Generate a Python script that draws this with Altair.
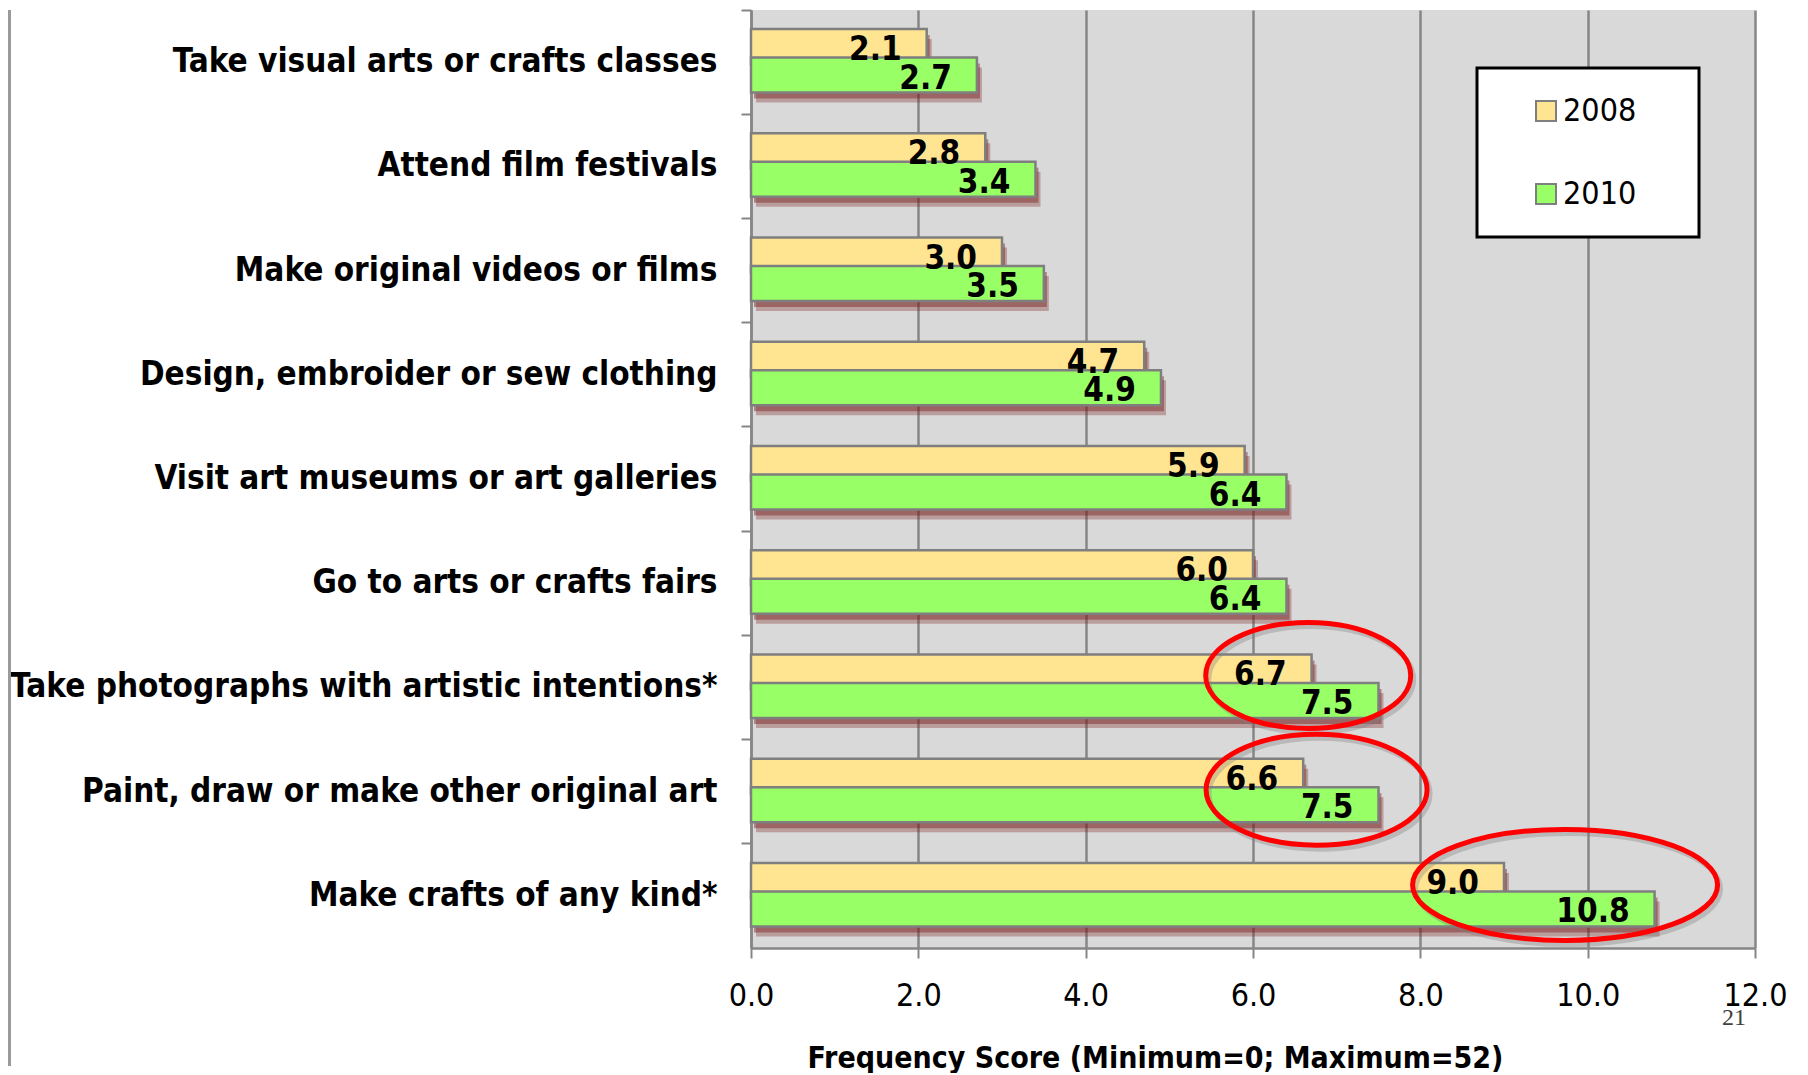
import altair as alt
import pandas as pd

# ---------------- data ----------------
categories = [
    "Take visual arts or crafts classes",
    "Attend film festivals",
    "Make original videos or films",
    "Design, embroider or sew clothing",
    "Visit art museums or art galleries",
    "Go to arts or crafts fairs",
    "Take photographs with artistic intentions*",
    "Paint, draw or make other original art",
    "Make crafts of any kind*",
]
values_2008 = [2.1, 2.8, 3.0, 4.7, 5.9, 6.0, 6.7, 6.6, 9.0]
values_2010 = [2.7, 3.4, 3.5, 4.9, 6.4, 6.4, 7.5, 7.5, 10.8]
years = ["2008", "2010"]
x_ticks = [0, 2, 4, 6, 8, 10, 12]
x_title = "Frequency Score (Minimum=0; Maximum=52)"

# red highlight ellipses (centre in data units, size in px)
ellipse_categories = [
    "Take photographs with artistic intentions*",
    "Paint, draw or make other original art",
    "Make crafts of any kind*",
]
ellipse_centers = [6.66, 6.76, 9.73]
ellipse_dy = [-12, -2, -11]
ellipse_w = [205, 221, 305]
ellipse_h = [106, 111, 111]

page_number = "21"

# ---------------- style ----------------
W, H = 1004, 938
FONT = "DejaVu Sans Condensed"
YELLOW = "#FFE591"
GREEN = "#99FF66"
GRID = "#868686"
BAR_STROKE = "#7f7f7f"
BAR_SIZE = 35
OFF_2008 = -15.5
OFF_2010 = 13

rows = []
for c, a, b in zip(categories, values_2008, values_2010):
    rows.append({"category": c, "year": "2008", "value": a})
    rows.append({"category": c, "year": "2010", "value": b})
df = pd.DataFrame(rows)

x_enc = alt.X(
    "value:Q",
    scale=alt.Scale(domain=[0, 12], nice=False),
    axis=alt.Axis(
        values=x_ticks, format=".1f", grid=True, gridColor=GRID, gridWidth=2.5,
        domainColor=GRID, domainWidth=2.5, tickColor=GRID, tickWidth=2, tickSize=10,
        labelFont=FONT, labelFontSize=32, labelColor="black", labelPadding=22,
        labelFlush=False, labelOverlap=False,
        title=x_title, titleFont=FONT, titleFontSize=30, titleFontWeight="bold",
        titleColor="black", titleX=404, titleY=110, titleAlign="center",
        titleBaseline="middle",
    ),
)
y_scale = alt.Scale(domain=categories, paddingInner=0, paddingOuter=0)
y_main = alt.Y(
    "category:N", sort=categories, scale=y_scale,
    axis=alt.Axis(
        title=None, ticks=False, grid=False, domainColor=GRID, domainWidth=2.5,
        labelFont=FONT, labelFontSize=33, labelFontWeight="bold", labelColor="black",
        labelPadding=34, labelLimit=900, orient="left",
    ),
)
y_ticks = alt.Y(
    "category:N", sort=categories, scale=y_scale,
    axis=alt.Axis(
        title=None, labels=False, domain=False, grid=False, ticks=True,
        tickColor=GRID, tickWidth=2, tickSize=10, bandPosition=0, orient="left",
    ),
)
y_none = alt.Y("category:N", sort=categories, scale=y_scale, axis=None)

legend = alt.Legend(
    title=None, orient="none", legendX=726, legendY=58,
    fillColor="white", strokeColor="black", padding=27, rowPadding=51,
    symbolType="square", symbolSize=400, symbolStrokeColor=BAR_STROKE,
    symbolStrokeWidth=2, symbolOffset=26, labelOffset=1,
    labelFont=FONT, labelFontSize=32, labelColor="black",
    labelExpr="datum.label + '\u2002\u2800'",
)
color_enc = alt.Color(
    "year:N", scale=alt.Scale(domain=years, range=[YELLOW, GREEN]), legend=legend
)

base = alt.Chart(df)
layers = []

# shadows
for yr, off in (("2008", OFF_2008), ("2010", OFF_2010)):
    for dx, dy, op in ((3, 6, 0.45), (5, 10, 0.32)):
        layers.append(
            base.transform_filter(alt.datum.year == yr)
            .mark_bar(size=BAR_SIZE, color="#7a2020", opacity=op, xOffset=dx, yOffset=off + dy)
            .encode(x=x_enc, y=(y_ticks if (yr == "2008" and dx == 3) else y_none))
        )

# bars
layers.append(
    base.transform_filter(alt.datum.year == "2008")
    .mark_bar(size=BAR_SIZE, yOffset=OFF_2008, stroke=BAR_STROKE, strokeWidth=2.5)
    .encode(x=x_enc, y=y_main, color=color_enc)
)
layers.append(
    base.transform_filter(alt.datum.year == "2010")
    .mark_bar(size=BAR_SIZE, yOffset=OFF_2010, stroke=BAR_STROKE, strokeWidth=2.5)
    .encode(x=x_enc, y=y_none, color=color_enc)
)

# value labels
for yr, dy in (("2008", -2), ("2010", 26.5)):
    layers.append(
        base.transform_filter(alt.datum.year == yr)
        .mark_text(align="right", baseline="alphabetic", dx=-25, dy=dy,
                   font=FONT, fontSize=33, fontWeight="bold", color="black")
        .encode(x=x_enc, y=y_none, text=alt.Text("value:Q", format=".1f"))
    )

# ellipses
def ellipse_path(r):
    k = 0.5523
    return (f"M -1 0 C -1 {-k*r:.4f} {-k:.4f} {-r:.4f} 0 {-r:.4f} "
            f"C {k:.4f} {-r:.4f} 1 {-k*r:.4f} 1 0 "
            f"C 1 {k*r:.4f} {k:.4f} {r:.4f} 0 {r:.4f} "
            f"C {-k:.4f} {r:.4f} -1 {k*r:.4f} -1 0 Z")

for c, xc, dy, w, h in zip(ellipse_categories, ellipse_centers, ellipse_dy, ellipse_w, ellipse_h):
    edf = pd.DataFrame({"category": [c], "value": [xc],
                        "shape": [ellipse_path(h / w)], "size": [w * w]})
    for col, op, ox, oy in (("#808080", 0.35, 3, 4), ("#ff0000", 1.0, 0, 0)):
        layers.append(
            alt.Chart(edf)
            .mark_point(filled=False, color=col, opacity=op, strokeWidth=5,
                        xOffset=ox, yOffset=dy + oy)
            .encode(x=x_enc, y=y_none,
                    shape=alt.Shape("shape:N", scale=None),
                    size=alt.Size("size:Q", scale=None))
        )

# slide border line at far left
layers.append(
    alt.Chart(pd.DataFrame({"a": [0]}))
    .mark_rule(color="#9a9a9a", strokeWidth=3)
    .encode(x=alt.value(-741.5), y=alt.value(0), y2=alt.value(H + 118))
)

# page number
layers.append(
    alt.Chart(pd.DataFrame({"t": [page_number]}))
    .mark_text(align="left", baseline="alphabetic", font="Liberation Serif",
               fontSize=24, color="#404040")
    .encode(x=alt.value(971), y=alt.value(1015), text="t:N")
)

chart = (
    alt.layer(*layers)
    .resolve_axis(y="independent")
    .properties(width=W, height=H, padding=0, background="white")
    .configure_view(fill="#d9d9d9", strokeWidth=0)
    .configure_legend(strokeWidth=3)
)

chart.save("out.html", embed_options={"renderer": "svg", "actions": False})
